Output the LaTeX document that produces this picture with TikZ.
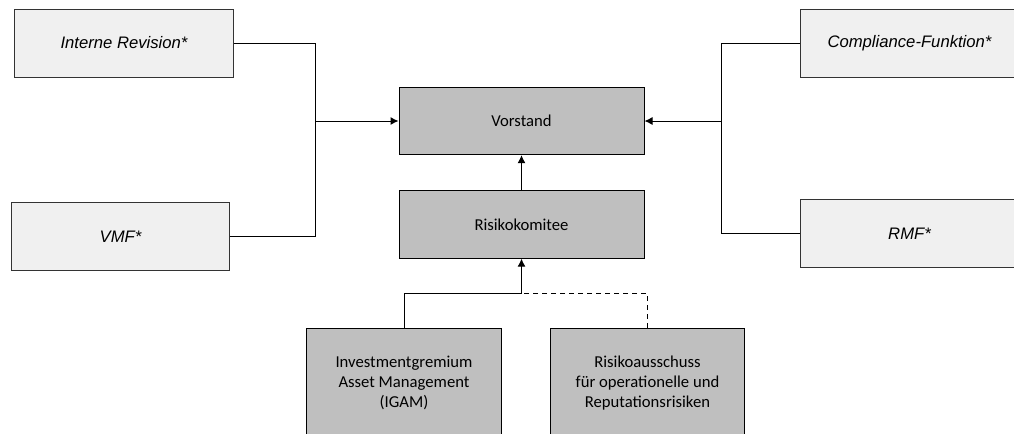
\documentclass[tikz,border=0pt]{standalone}
\usepackage{fontspec}
\setmainfont{Carlito}
\newfontfamily\arialfont{Liberation Sans}
\usepackage{tikz}
\usetikzlibrary{arrows.meta}
\definecolor{outerfill}{HTML}{F0F0F0}
\definecolor{innerfill}{HTML}{BFBFBF}
\tikzstyle{outer}=[rectangle,fill=outerfill,draw=black!80,line width=0.75pt,minimum width=164pt,minimum height=51pt,inner sep=0pt,font=\arialfont\itshape\fontsize{12.5}{15}\selectfont]
\tikzstyle{board}=[rectangle,fill=innerfill,draw=black,line width=0.75pt,minimum width=183.75pt,minimum height=50.5pt,inner sep=0pt,font=\fontsize{12.5}{15}\selectfont]
\tikzstyle{panel}=[board,minimum width=146pt,minimum height=82.5pt,align=center]
\tikzstyle{line} = [draw,line width=0.75pt]
\tikzstyle{link} = [line,-{Latex[length=6pt,width=6pt]}]

\begin{document}
\begin{tikzpicture}[x=0.75pt,y=-0.75pt]

    \useasboundingbox (0,0) rectangle (1014,433);

    % control functions
    \foreach \pos/ \name / \label in {(124,43)/intrev/Interne Revision*,(120.5,236.5)/vmf/VMF*,(909.5,43)/compl/Compliance-Funktion*,(909.5,233.5)/rmf/RMF*}
        \node[outer] (\name) at \pos {\label};

    % boards
    \node[board] (vorstand) at (521.5,121) {Vorstand};
    \node[board] (risiko) at (521.5,224.5) {Risikokomitee};

    \node[panel] (igam) at (404,383) {Investmentgremium\\Asset Management\\(IGAM)};
    \node[panel] (raus) at (647.5,383) {Risikoausschuss\\für operationelle und\\Reputationsrisiken};

    \coordinate (lj) at (315,121);
    \coordinate (rj) at (721,121);
    \coordinate (bj) at (521.5,293);

    \foreach \source/ \dest in {intrev/lj,vmf/lj}
        \draw[line] (\source.east) -| (\dest);
    \foreach \source/ \dest in {compl/rj,rmf/rj}
        \draw[line] (\source.west) -| (\dest);
    \draw[link] (lj) -- (vorstand.west);
    \draw[link] (rj) -- (vorstand.east);
    \draw[link] (risiko.north) -- (vorstand.south);

    \draw[line] (igam.north) |- (bj);
    \draw[line,dash pattern=on 3.75pt off 3pt] (raus.north) |- (bj);
    \draw[link] (bj) -- (risiko.south);

\end{tikzpicture}
\end{document}
